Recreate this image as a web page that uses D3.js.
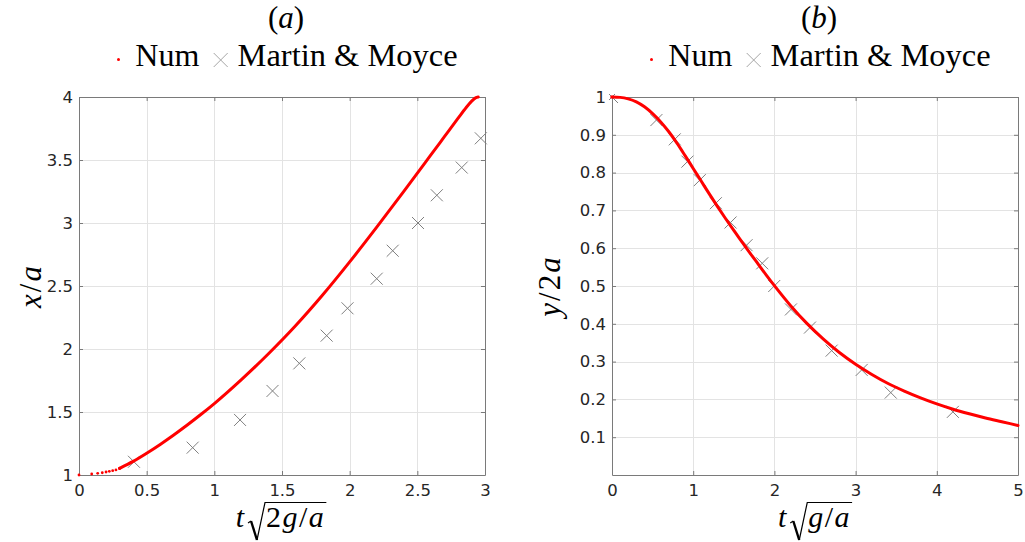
<!DOCTYPE html>
<html><head><meta charset="utf-8">
<script src="https://cdn.jsdelivr.net/npm/d3@7"></script>
<style>body{margin:0;background:#fff} svg{display:block}</style>
</head><body>
<svg id="chart" width="1025" height="542"></svg>
<script>
// ---------- Panel (a) data ----------
const aXTicks = [0, 0.5, 1, 1.5, 2, 2.5, 3];
const aYTicks = [1, 1.5, 2, 2.5, 3, 3.5, 4];
const aXTickLabels = ["0", "0.5", "1", "1.5", "2", "2.5", "3"];
const aYTickLabels = ["1", "1.5", "2", "2.5", "3", "3.5", "4"];
// sparse numerical points at the start (drawn as dots)
const aNumDotsX = [0, 0.094, 0.138, 0.172, 0.2, 0.224, 0.249, 0.273];
const aNumDotsY = [1, 1.008, 1.013, 1.018, 1.024, 1.029, 1.034, 1.040];
// dense numerical curve
const aNumX = [0.3, 0.4, 0.5, 0.6, 0.7, 0.8, 0.9, 1.0, 1.2, 1.4, 1.6, 1.8, 2.0, 2.2, 2.4, 2.6, 2.7, 2.8, 2.86, 2.9, 2.93, 2.95];
const aNumY = [1.053, 1.108, 1.173, 1.243, 1.318, 1.397, 1.480, 1.567, 1.757, 1.962, 2.184, 2.428, 2.691, 2.967, 3.251, 3.540, 3.685, 3.830, 3.915, 3.965, 3.993, 4.0];
const aMMX = [0.406, 0.84, 1.19, 1.43, 1.628, 1.83, 1.984, 2.20, 2.318, 2.505, 2.644, 2.828, 2.969];
const aMMY = [1.105, 1.217, 1.437, 1.667, 1.886, 2.106, 2.323, 2.558, 2.78, 3.0, 3.22, 3.44, 3.672];

// ---------- Panel (b) data ----------
const bXTicks = [0, 1, 2, 3, 4, 5];
const bYTicks = [0.1, 0.2, 0.3, 0.4, 0.5, 0.6, 0.7, 0.8, 0.9, 1];
const bXTickLabels = ["0", "1", "2", "3", "4", "5"];
const bYTickLabels = ["0.1", "0.2", "0.3", "0.4", "0.5", "0.6", "0.7", "0.8", "0.9", "1"];
const bNumX = [0, 0.1, 0.2, 0.3, 0.4, 0.5, 0.6, 0.7, 0.8, 0.9, 1.0, 1.1, 1.2, 1.3, 1.4, 1.5, 1.6, 1.7, 1.8, 1.9, 2.0, 2.2, 2.4, 2.6, 2.8, 3.0, 3.2, 3.4, 3.6, 3.8, 4.0, 4.2, 4.4, 4.6, 4.8, 5.0];
const bNumY = [1, 0.999, 0.995, 0.987, 0.974, 0.956, 0.934, 0.908, 0.878, 0.845, 0.811, 0.777, 0.743, 0.710, 0.678, 0.647, 0.617, 0.587, 0.558, 0.529, 0.501, 0.448, 0.401, 0.360, 0.324, 0.293, 0.266, 0.242, 0.222, 0.204, 0.188, 0.174, 0.162, 0.151, 0.141, 0.131];
const bMMX = [0, 0.547, 0.773, 0.929, 1.081, 1.279, 1.46, 1.657, 1.85, 1.998, 2.204, 2.438, 2.705, 3.075, 3.433, 4.198];
const bMMY = [1.0, 0.939, 0.888, 0.829, 0.780, 0.719, 0.668, 0.608, 0.560, 0.500, 0.438, 0.390, 0.329, 0.278, 0.218, 0.167];

const legendLabels = ["Num", "Martin & Moyce"];

const svg = d3.select("#chart");
const SERIF = "'Liberation Serif', 'Times New Roman', serif";
const SANS = "'DejaVu Sans', sans-serif";
const PLOT_TOP = 97, PLOT_BOTTOM = 475;

function mathText(sel, parts) {
  parts.forEach(p => sel.append("tspan").attr("font-style", p.i ? "italic" : "normal").text(p.t));
}

function drawPanel(o) {
  const x = d3.scaleLinear().domain(o.xDomain).range([o.left, o.right]);
  const y = d3.scaleLinear().domain(o.yDomain).range([PLOT_BOTTOM, PLOT_TOP]);
  const g = svg.append("g");
  const cx = (o.left + o.right) / 2;

  // grid
  g.append("g").selectAll("line").data(o.xTicks).join("line")
    .attr("x1", d => Math.round(x(d)) + 0.5).attr("x2", d => Math.round(x(d)) + 0.5)
    .attr("y1", PLOT_TOP).attr("y2", PLOT_BOTTOM)
    .attr("stroke", "#e3e3e3").attr("stroke-width", 1);
  g.append("g").selectAll("line").data(o.yTicks).join("line")
    .attr("y1", d => Math.round(y(d)) + 0.5).attr("y2", d => Math.round(y(d)) + 0.5)
    .attr("x1", o.left).attr("x2", o.right)
    .attr("stroke", "#e3e3e3").attr("stroke-width", 1);

  // axes
  const fmtX = (d, i) => o.xTickLabels[i];
  const fmtY = (d, i) => o.yTickLabels[i];
  const axB = g.append("g").attr("transform", `translate(0,${PLOT_BOTTOM})`)
    .call(d3.axisBottom(x).tickValues(o.xTicks).tickFormat(fmtX).tickSize(-4).tickPadding(9).tickSizeOuter(0));
  const axT = g.append("g").attr("transform", `translate(0,${PLOT_TOP})`)
    .call(d3.axisTop(x).tickValues(o.xTicks).tickFormat("").tickSize(-4).tickSizeOuter(0));
  const axL = g.append("g").attr("transform", `translate(${o.left},0)`)
    .call(d3.axisLeft(y).tickValues(o.yTicks).tickFormat(fmtY).tickSize(-4).tickPadding(6).tickSizeOuter(0));
  const axR = g.append("g").attr("transform", `translate(${o.right},0)`)
    .call(d3.axisRight(y).tickValues(o.yTicks).tickFormat("").tickSize(-4).tickSizeOuter(0));
  [axB, axT, axL, axR].forEach(a => {
    a.select(".domain").attr("stroke", "#7a7a7a");
    a.selectAll(".tick line").attr("stroke", "#7a7a7a");
    a.selectAll("text").attr("fill", "#262626").attr("font-family", SANS).attr("font-size", 16.5);
  });

  // clip
  const clipId = "clip" + o.id;
  svg.append("clipPath").attr("id", clipId).append("rect")
    .attr("x", o.left - 3).attr("y", PLOT_TOP - 3).attr("width", o.right - o.left + 6).attr("height", PLOT_BOTTOM - PLOT_TOP + 6);
  const dg = g.append("g").attr("clip-path", `url(#${clipId})`);

  // crosses (Martin & Moyce)
  const cs = 6;
  dg.append("g").selectAll("path").data(o.mmX.map((v, i) => [v, o.mmY[i]])).join("path")
    .attr("d", d => `M${x(d[0]) - cs},${y(d[1]) - cs}L${x(d[0]) + cs},${y(d[1]) + cs}M${x(d[0]) - cs},${y(d[1]) + cs}L${x(d[0]) + cs},${y(d[1]) - cs}`)
    .attr("stroke", "#7f7f7f").attr("stroke-width", 1).attr("fill", "none");

  // numerical curve
  const pts = o.numX.map((v, i) => [v, o.numY[i]]);
  dg.append("path").datum(pts)
    .attr("d", d3.line().x(d => x(d[0])).y(d => y(d[1])).curve(d3.curveMonotoneX))
    .attr("stroke", "#ff0000").attr("stroke-width", 3).attr("fill", "none")
    .attr("stroke-linecap", "round").attr("stroke-linejoin", "round");
  if (o.dotsX) {
    dg.append("g").selectAll("circle").data(o.dotsX.map((v, i) => [v, o.dotsY[i]])).join("circle")
      .attr("cx", d => x(d[0])).attr("cy", d => y(d[1])).attr("r", 1.4).attr("fill", "#ff0000");
  }
  dg.append("circle").attr("cx", x(o.numX[0])).attr("cy", y(o.numY[0])).attr("r", 1.6).attr("fill", "#ff0000");

  // title
  const tt = svg.append("text").attr("x", cx + 4).attr("y", 28).attr("text-anchor", "middle")
    .attr("font-family", SERIF).attr("font-size", 31).attr("fill", "#000");
  mathText(tt, [{t: "("}, {t: o.letter, i: 1}, {t: ")"}]);

  // legend
  svg.append("circle").attr("cx", cx - 163.5).attr("cy", 59.5).attr("r", 1.5).attr("fill", "#ff0000");
  svg.append("text").attr("x", cx - 146.7).attr("y", 66).attr("font-family", SERIF).attr("font-size", 31)
    .attr("textLength", 64).attr("lengthAdjust", "spacingAndGlyphs").attr("fill", "#000").text(legendLabels[0]);
  const lx = cx - 61.3, ly = 60, ls = 7;
  svg.append("path").attr("d", `M${lx - ls},${ly - ls}L${lx + ls},${ly + ls}M${lx - ls},${ly + ls}L${lx + ls},${ly - ls}`)
    .attr("stroke", "#a6a6a6").attr("stroke-width", 1);
  svg.append("text").attr("x", cx - 44.4).attr("y", 66).attr("font-family", SERIF).attr("font-size", 31)
    .attr("textLength", 220).attr("lengthAdjust", "spacingAndGlyphs").attr("fill", "#000").text(legendLabels[1]);

  // y label
  const yl = svg.append("text").attr("transform", `translate(${o.ylabX},${(PLOT_TOP + PLOT_BOTTOM) / 2}) rotate(-90)`)
    .attr("text-anchor", "middle").attr("font-family", SERIF).attr("font-size", 31).attr("fill", "#000")
    .attr("letter-spacing", 2);
  mathText(yl, o.ylab);

  // x label with radical
  const fs = 30;
  const lab = svg.append("g");
  const t1 = lab.append("text").attr("x", 0).attr("y", 0).attr("font-family", SERIF).attr("font-size", fs).attr("fill", "#000");
  mathText(t1, [{t: "t", i: 1}]);
  const w1 = t1.node().getComputedTextLength();
  const r0 = w1 + 4;
  const radText = lab.append("text").attr("x", r0 + 18).attr("y", 0).attr("font-family", SERIF)
    .attr("font-size", fs).attr("fill", "#000").attr("letter-spacing", 1.5);
  mathText(radText, o.radicand);
  const w2 = radText.node().getComputedTextLength();
  const endX = r0 + 18 + w2 + 1;
  lab.append("path").attr("d", `M${r0},-4L${r0 + 3},-6`).attr("stroke", "#000").attr("stroke-width", 1.2).attr("fill", "none");
  lab.append("path").attr("d", `M${r0 + 3},-6L${r0 + 9},13`).attr("stroke", "#000").attr("stroke-width", 2.4).attr("fill", "none");
  lab.append("path").attr("d", `M${r0 + 9},13L${r0 + 17},-24.5H${endX}`).attr("stroke", "#000").attr("stroke-width", 1.2).attr("fill", "none");
  lab.attr("transform", `translate(${o.xlabCx - endX / 2},527)`);
}

drawPanel({
  id: "a", letter: "a", left: 79, right: 485, xDomain: [0, 3], yDomain: [1, 4],
  xTicks: aXTicks, yTicks: aYTicks, xTickLabels: aXTickLabels, yTickLabels: aYTickLabels,
  numX: aNumX, numY: aNumY, dotsX: aNumDotsX, dotsY: aNumDotsY, mmX: aMMX, mmY: aMMY,
  ylabX: 41, ylab: [{t: "x", i: 1}, {t: "/"}, {t: "a", i: 1}],
  xlabCx: 281, radicand: [{t: "2"}, {t: "g", i: 1}, {t: "/"}, {t: "a", i: 1}]
});
drawPanel({
  id: "b", letter: "b", left: 612, right: 1018, xDomain: [0, 5], yDomain: [0, 1],
  xTicks: bXTicks, yTicks: bYTicks, xTickLabels: bXTickLabels, yTickLabels: bYTickLabels,
  numX: bNumX, numY: bNumY, mmX: bMMX, mmY: bMMY,
  ylabX: 560, ylab: [{t: "y", i: 1}, {t: "/"}, {t: "2"}, {t: "a", i: 1}],
  xlabCx: 815, radicand: [{t: "g", i: 1}, {t: "/"}, {t: "a", i: 1}]
});
</script>
</body></html>
